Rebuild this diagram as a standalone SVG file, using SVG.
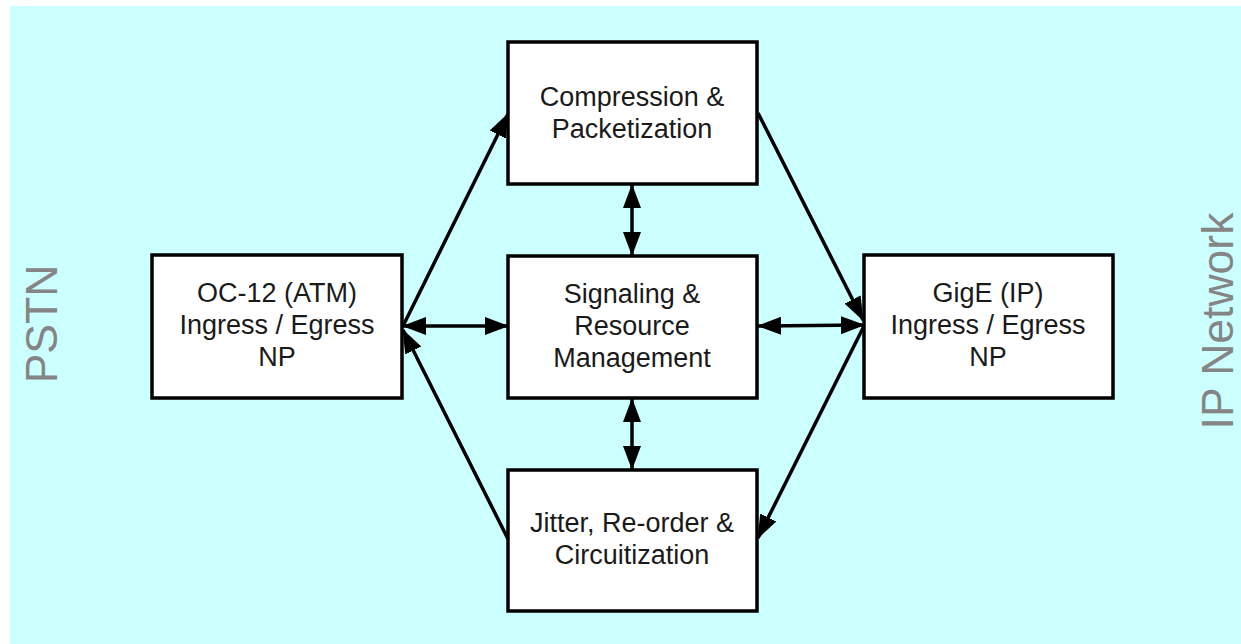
<svg xmlns="http://www.w3.org/2000/svg" width="1241" height="644" viewBox="0 0 1241 644">
<style>
.box{fill:#ffffff;stroke:#000000;stroke-width:3.5}
.t{font-family:"Liberation Sans",Arial,sans-serif;font-size:27px;fill:#1a1a1a;text-anchor:middle}
.side{font-family:"Liberation Sans",Arial,sans-serif;font-size:44.5px;fill:#858585;text-anchor:middle}
.c{stroke:#000000;stroke-width:3.5;fill:none}
</style>
<defs>
<marker id="ah" viewBox="0 0 24 18" refX="23" refY="9" markerWidth="24" markerHeight="18" markerUnits="userSpaceOnUse" orient="auto-start-reverse">
<path d="M0,0 L24,9 L0,18 z" fill="#000000"/>
</marker>
</defs>
<rect x="10" y="6" width="1231" height="638" fill="#ccffff"/>
<text class="side" transform="translate(57,324) rotate(-90)">PSTN</text>
<text class="side" transform="translate(1233,321) rotate(-90)">IP Network</text>
<g id="connectors">
<line class="c" x1="403" y1="326" x2="508" y2="326" marker-start="url(#ah)" marker-end="url(#ah)"/>
<line class="c" x1="758" y1="326" x2="864" y2="325" marker-start="url(#ah)" marker-end="url(#ah)"/>
<line class="c" x1="632" y1="185" x2="632" y2="255" marker-start="url(#ah)" marker-end="url(#ah)"/>
<line class="c" x1="632" y1="399" x2="632" y2="469" marker-start="url(#ah)" marker-end="url(#ah)"/>
<line class="c" x1="403" y1="326" x2="508" y2="114" marker-end="url(#ah)"/>
<line class="c" x1="508" y1="539" x2="403" y2="330" marker-end="url(#ah)"/>
<line class="c" x1="758" y1="113" x2="863" y2="320" marker-end="url(#ah)"/>
<line class="c" x1="864" y1="326" x2="758" y2="538" marker-end="url(#ah)"/>
</g>
<g id="node-oc12">
<rect class="box" x="152" y="255" width="250" height="143"/>
<text class="t" x="277" y="302">OC-12 (ATM)</text>
<text class="t" x="277" y="334">Ingress / Egress</text>
<text class="t" x="277" y="366">NP</text>
</g>
<g id="node-compression">
<rect class="box" x="508" y="42" width="249" height="142"/>
<text class="t" x="632" y="106">Compression &amp;</text>
<text class="t" x="632" y="138">Packetization</text>
</g>
<g id="node-signaling">
<rect class="box" x="508" y="256" width="249" height="142"/>
<text class="t" x="632" y="303">Signaling &amp;</text>
<text class="t" x="632" y="335">Resource</text>
<text class="t" x="632" y="367">Management</text>
</g>
<g id="node-jitter">
<rect class="box" x="508" y="470" width="249" height="141"/>
<text class="t" x="632" y="532">Jitter, Re-order &amp;</text>
<text class="t" x="632" y="564">Circuitization</text>
</g>
<g id="node-gige">
<rect class="box" x="864" y="255" width="249" height="143"/>
<text class="t" x="988" y="302">GigE (IP)</text>
<text class="t" x="988" y="334">Ingress / Egress</text>
<text class="t" x="988" y="366">NP</text>
</g>
</svg>
